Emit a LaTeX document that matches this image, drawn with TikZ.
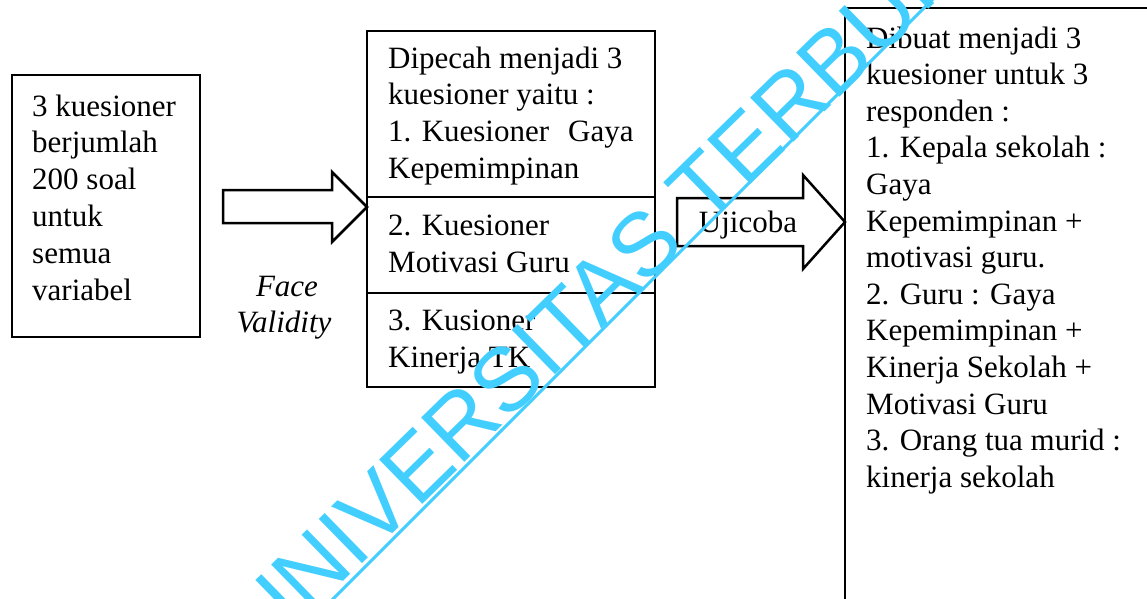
\documentclass[tikz,border=0pt]{standalone}
\usepackage{fontspec}
\setmainfont{Liberation Serif}
\newfontfamily\wmfont{Liberation Sans}
\definecolor{wm}{RGB}{66,206,255}
\newcommand{\tb}[2]{\parbox[t]{320pt}{\raggedright\fontsize{31}{#1}\selectfont #2}}
\begin{document}
\begin{tikzpicture}[x=1pt,y=-1pt,
  box/.style={draw=black,line width=2.5pt,inner sep=0pt,outer sep=0pt,anchor=north west},
  txt/.style={anchor=base west,inner sep=0pt},
  lbl/.style={anchor=base,align=center,inner sep=0pt,font=\fontsize{31}{37}\selectfont},
  blockarrow/.style={draw=black,line width=2.5pt,fill=white,line join=miter}]
\useasboundingbox (0,0) rectangle (1147,598);
% boxes
\node[box,minimum width=188pt,minimum height=262pt] (b1) at (12,75) {};
\node[box,minimum width=288pt,minimum height=356pt] (b2) at (367,31) {};
\node[box,minimum width=340pt,minimum height=640pt] (b3) at (845,8) {};
\draw[line width=2.5pt] (b2.west |- 0,197) -- (b2.east |- 0,197);
\draw[line width=2.5pt] (b2.west |- 0,293) -- (b2.east |- 0,293);
% arrows
\coordinate (t1) at (b2.west |- 0,207);
\coordinate (t2) at (b3.west |- 0,222);
\draw[blockarrow] (223,190) -- (332,190) -- (332,172) -- (t1) -- (332,242) -- (332,223) -- (223,223) -- cycle;
\draw[blockarrow] (677,198) -- (803,198) -- (803,175) -- (t2) -- (803,269) -- (803,246) -- (677,246) -- cycle;
% texts
\node[txt] (l1) at (32,116) {\tb{36.8}{3 kuesioner\\berjumlah\\200 soal\\untuk\\semua\\variabel}};
\node[lbl,font=\fontsize{31}{37}\selectfont\itshape] (fv1) at (287,296) {Face};
\node[lbl,font=\fontsize{31}{37}\selectfont\itshape] (fv2) at (284,332) {Validity};
\node[txt] (m1) at (388,68) {\tb{36.7}{Dipecah menjadi 3\\kuesioner yaitu :\\1. Kuesioner\hspace{19pt}Gaya\\Kepemimpinan}};
\node[txt] (m2) at (388,235) {\tb{37}{2. Kuesioner\\Motivasi Guru}};
\node[txt] (m3) at (388,330) {\tb{37}{3. Kusioner\\Kinerja TK}};
\node[lbl] (uj) at (748,232) {Ujicoba};
\node[txt] (r1) at (866,48) {\tb{36.6}{Dibuat menjadi 3\\kuesioner untuk 3\\responden :\\1. Kepala sekolah :\\Gaya\\Kepemimpinan +\\motivasi guru.\\2. Guru : Gaya\\Kepemimpinan +\\Kinerja Sekolah +\\Motivasi Guru\\3. Orang tua murid :\\kinerja sekolah}};
% watermark
\node[rotate=44.3,anchor=base west,inner sep=0pt,text=wm,font=\wmfont\fontsize{90}{90}\selectfont] (wmt) at (263,660) {UNIVERSITAS TERBUKA};
\draw[wm,line width=3pt] (322,610) -- (942,-10);
\end{tikzpicture}
\end{document}
